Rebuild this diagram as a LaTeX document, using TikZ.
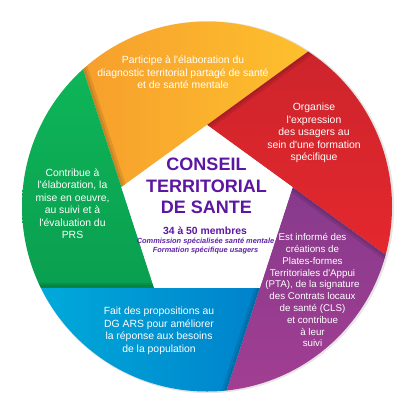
\documentclass[tikz,border=0pt]{standalone}
\usepackage{fontspec}
\setmainfont{Liberation Sans}[Ligatures=TeXOff]
\usetikzlibrary{calc}
\definecolor{orL}{RGB}{246,156,44}
\definecolor{orR}{RGB}{254,194,46}
\definecolor{redT}{RGB}{204,36,44}
\definecolor{redB}{RGB}{230,40,45}
\definecolor{purT}{RGB}{134,58,140}
\definecolor{purB}{RGB}{162,62,146}
\definecolor{bluL}{RGB}{0,170,218}
\definecolor{bluR}{RGB}{0,126,202}
\definecolor{grnT}{RGB}{14,182,88}
\definecolor{grnB}{RGB}{10,158,80}
\definecolor{titleC}{RGB}{92,22,162}
\definecolor{subC}{RGB}{96,36,168}
\tikzset{
  segtext/.style={text=white, align=center, inner sep=0pt, font=\fontsize{10.4}{12.5}\selectfont},
  shadowline/.style={black, opacity=0.09, line cap=butt},
}
\begin{document}
\begin{tikzpicture}[x=1pt,y=-1pt]
\useasboundingbox (0,0) rectangle (414,413);
\coordinate (C) at (207,206.5);
\coordinate (V0) at (207,125);
\coordinate (V1) at (292.6,187.2);
\coordinate (V2) at (259.9,287.8);
\coordinate (V3) at (154.1,287.8);
\coordinate (V4) at (121.4,187.2);
% soft outer shadow
\fill[black, opacity=0.10] ($(C)+(1.2,0.6)$) circle[radius=186pt];
% orange
\begin{scope}
\clip (C) circle[radius=185pt];
\clip (V4) -- ($(V4)!-6!(V3)$) -- ($(V4)!6!(V0)$) -- cycle;
\shade[left color=orL, right color=orR] (60,15) rectangle (320,200);
\draw[shadowline, line width=10pt] (V4) -- ($(V4)!-6!(V3)$);
\draw[shadowline, line width=5pt] (V4) -- ($(V4)!-6!(V3)$);
\end{scope}
% red
\begin{scope}
\clip (C) circle[radius=185pt];
\clip (V0) -- ($(V0)!-6!(V4)$) -- ($(V0)!6!(V1)$) -- cycle;
\shade[top color=redT, bottom color=redB] (150,40) rectangle (400,275);
\draw[shadowline, line width=10pt] (V0) -- ($(V0)!-6!(V4)$);
\draw[shadowline, line width=5pt] (V0) -- ($(V0)!-6!(V4)$);
\end{scope}
% purple
\begin{scope}
\clip (C) circle[radius=185pt];
\clip (V1) -- ($(V1)!-6!(V0)$) -- ($(V1)!6!(V2)$) -- cycle;
\shade[top color=purT, bottom color=purB] (200,180) rectangle (400,395);
\draw[shadowline, line width=10pt] (V1) -- ($(V1)!-6!(V0)$);
\draw[shadowline, line width=5pt] (V1) -- ($(V1)!-6!(V0)$);
\end{scope}
% blue
\begin{scope}
\clip (C) circle[radius=185pt];
\clip (V2) -- ($(V2)!-6!(V1)$) -- ($(V2)!6!(V3)$) -- cycle;
\shade[left color=bluL, right color=bluR] (40,280) rectangle (280,395);
\draw[shadowline, line width=10pt] (V2) -- ($(V2)!-6!(V1)$);
\draw[shadowline, line width=5pt] (V2) -- ($(V2)!-6!(V1)$);
\end{scope}
% green
\begin{scope}
\clip (C) circle[radius=185pt];
\clip (V3) -- ($(V3)!-6!(V2)$) -- ($(V3)!6!(V4)$) -- cycle;
\shade[top color=grnT, bottom color=grnB] (15,60) rectangle (170,295);
\draw[shadowline, line width=10pt] (V3) -- ($(V3)!-6!(V2)$);
\draw[shadowline, line width=5pt] (V3) -- ($(V3)!-6!(V2)$);
\end{scope}
% pentagon (white)
\fill[white] (V0) -- (V1) -- (V2) -- (V3) -- (V4) -- cycle;
% segment texts
\node[segtext] (tOrange) at (183,72.5) {Participe à l'élaboration du\\diagnostic territorial partagé de santé\\et de santé mentale};
\node[segtext] (tRed) at (314,133.3) {Organise\\l'expression\\des usagers au\\sein d'une formation\\spécifique};
\node[segtext, font=\fontsize{9.75}{11.8}\selectfont] (tPurple) at (312.5,290.3) {Est informé des\\créations de\\Plates-formes\\Territoriales d'Appui\\(PTA), de la signature\\des Contrats locaux\\de santé (CLS)\\et contribue\\à leur\\suivi};
\node[segtext] (tBlue) at (159,331) {Fait des propositions au\\DG ARS pour améliorer\\la réponse aux besoins\\de la population};
\node[segtext] (tGreen) at (72.5,203.8) {Contribue à\\l'élaboration, la\\mise en oeuvre,\\au suivi et à\\l'évaluation du\\PRS};
% center texts
\node[align=center, inner sep=0pt, text=titleC, font=\fontsize{18}{21.7}\selectfont\bfseries] (title) at (206.5,186) {CONSEIL\\TERRITORIAL\\DE SANTE};
\node[inner sep=0pt, text=titleC, font=\fontsize{10.4}{12}\selectfont\bfseries] (members) at (205,230.5) {34 à 50 membres};
\node[align=center, inner sep=0pt, text=subC, font=\fontsize{7.4}{9.7}\selectfont\bfseries\itshape] (sub) at (205.5,246) {Commission spécialisée santé mentale\\Formation spécifique usagers};
\end{tikzpicture}
\end{document}
